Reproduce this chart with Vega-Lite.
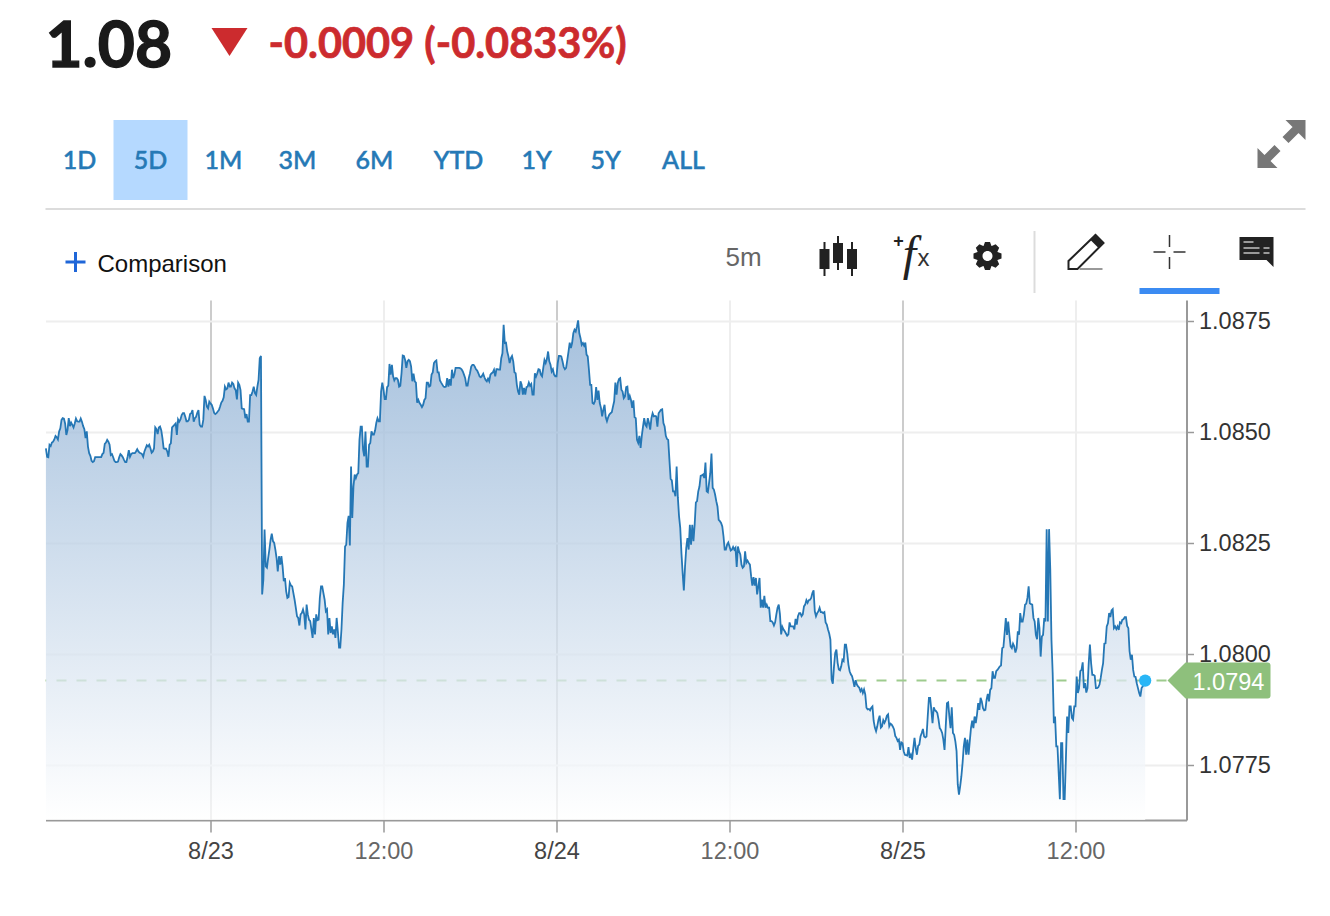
{"$schema":"https://vega.github.io/schema/vega-lite/v6.json","background":"white","padding":{"left":41.5,"top":0,"right":0,"bottom":0},"spacing":0,"bounds":"flush","config":{"view":{"stroke":null},"concat":{"spacing":0}},
"datasets":{"series":[
{"t":"2023-08-22T12:35Z","v":1.08463},{"t":"2023-08-22T12:40Z","v":1.08444},{"t":"2023-08-22T12:45Z","v":1.08443},{"t":"2023-08-22T12:50Z","v":1.08471},{"t":"2023-08-22T12:55Z","v":1.08468},{"t":"2023-08-22T13:00Z","v":1.08476},{"t":"2023-08-22T13:05Z","v":1.08478},{"t":"2023-08-22T13:10Z","v":1.08483},{"t":"2023-08-22T13:15Z","v":1.08491},{"t":"2023-08-22T13:20Z","v":1.08488},{"t":"2023-08-22T13:25Z","v":1.08483},{"t":"2023-08-22T13:30Z","v":1.08501},{"t":"2023-08-22T13:35Z","v":1.08508},{"t":"2023-08-22T13:40Z","v":1.08527},{"t":"2023-08-22T13:45Z","v":1.08531},{"t":"2023-08-22T13:50Z","v":1.0853},{"t":"2023-08-22T13:55Z","v":1.08519},{"t":"2023-08-22T14:00Z","v":1.08493},{"t":"2023-08-22T14:05Z","v":1.08504},{"t":"2023-08-22T14:10Z","v":1.08531},{"t":"2023-08-22T14:15Z","v":1.08513},{"t":"2023-08-22T14:20Z","v":1.08521},{"t":"2023-08-22T14:25Z","v":1.08516},{"t":"2023-08-22T14:30Z","v":1.0851},{"t":"2023-08-22T14:35Z","v":1.08519},{"t":"2023-08-22T14:40Z","v":1.0853},{"t":"2023-08-22T14:45Z","v":1.08524},{"t":"2023-08-22T14:50Z","v":1.08523},{"t":"2023-08-22T14:55Z","v":1.08523},{"t":"2023-08-22T15:00Z","v":1.0853},{"t":"2023-08-22T15:05Z","v":1.08523},{"t":"2023-08-22T15:10Z","v":1.08513},{"t":"2023-08-22T15:15Z","v":1.08506},{"t":"2023-08-22T15:20Z","v":1.08486},{"t":"2023-08-22T15:25Z","v":1.08501},{"t":"2023-08-22T15:30Z","v":1.08467},{"t":"2023-08-22T15:35Z","v":1.08452},{"t":"2023-08-22T15:40Z","v":1.08446},{"t":"2023-08-22T15:45Z","v":1.08435},{"t":"2023-08-22T15:50Z","v":1.08432},{"t":"2023-08-22T15:55Z","v":1.08434},{"t":"2023-08-22T16:00Z","v":1.08443},{"t":"2023-08-22T16:10Z","v":1.08443},{"t":"2023-08-22T16:20Z","v":1.08443},{"t":"2023-08-22T16:25Z","v":1.08443},{"t":"2023-08-22T16:30Z","v":1.0845},{"t":"2023-08-22T16:35Z","v":1.08453},{"t":"2023-08-22T16:40Z","v":1.08473},{"t":"2023-08-22T16:45Z","v":1.08476},{"t":"2023-08-22T16:50Z","v":1.08482},{"t":"2023-08-22T16:55Z","v":1.08478},{"t":"2023-08-22T17:00Z","v":1.08471},{"t":"2023-08-22T17:05Z","v":1.08448},{"t":"2023-08-22T17:10Z","v":1.0845},{"t":"2023-08-22T17:15Z","v":1.08443},{"t":"2023-08-22T17:20Z","v":1.08435},{"t":"2023-08-22T17:25Z","v":1.08432},{"t":"2023-08-22T17:30Z","v":1.08432},{"t":"2023-08-22T17:35Z","v":1.08433},{"t":"2023-08-22T17:40Z","v":1.08443},{"t":"2023-08-22T17:45Z","v":1.0845},{"t":"2023-08-22T17:50Z","v":1.08447},{"t":"2023-08-22T17:55Z","v":1.08443},{"t":"2023-08-22T18:00Z","v":1.08437},{"t":"2023-08-22T18:05Z","v":1.08432},{"t":"2023-08-22T18:10Z","v":1.08432},{"t":"2023-08-22T18:15Z","v":1.08444},{"t":"2023-08-22T18:20Z","v":1.08459},{"t":"2023-08-22T18:25Z","v":1.08444},{"t":"2023-08-22T18:30Z","v":1.0845},{"t":"2023-08-22T18:35Z","v":1.08452},{"t":"2023-08-22T18:45Z","v":1.08452},{"t":"2023-08-22T18:50Z","v":1.08456},{"t":"2023-08-22T18:55Z","v":1.08461},{"t":"2023-08-22T19:00Z","v":1.08456},{"t":"2023-08-22T19:05Z","v":1.08453},{"t":"2023-08-22T19:10Z","v":1.08452},{"t":"2023-08-22T19:15Z","v":1.0845},{"t":"2023-08-22T19:20Z","v":1.08444},{"t":"2023-08-22T19:25Z","v":1.08456},{"t":"2023-08-22T19:30Z","v":1.08463},{"t":"2023-08-22T19:35Z","v":1.0847},{"t":"2023-08-22T19:40Z","v":1.08467},{"t":"2023-08-22T19:45Z","v":1.08471},{"t":"2023-08-22T19:50Z","v":1.08463},{"t":"2023-08-22T19:55Z","v":1.08453},{"t":"2023-08-22T20:00Z","v":1.08456},{"t":"2023-08-22T20:05Z","v":1.08463},{"t":"2023-08-22T20:10Z","v":1.0851},{"t":"2023-08-22T20:15Z","v":1.08506},{"t":"2023-08-22T20:20Z","v":1.08495},{"t":"2023-08-22T20:25Z","v":1.0851},{"t":"2023-08-22T20:30Z","v":1.08512},{"t":"2023-08-22T20:35Z","v":1.08504},{"t":"2023-08-22T20:40Z","v":1.08486},{"t":"2023-08-22T20:45Z","v":1.08463},{"t":"2023-08-22T20:50Z","v":1.08462},{"t":"2023-08-22T20:55Z","v":1.08462},{"t":"2023-08-22T21:00Z","v":1.08456},{"t":"2023-08-22T21:05Z","v":1.08444},{"t":"2023-08-22T21:10Z","v":1.08471},{"t":"2023-08-22T21:15Z","v":1.08474},{"t":"2023-08-22T21:20Z","v":1.0851},{"t":"2023-08-22T21:25Z","v":1.08513},{"t":"2023-08-22T21:30Z","v":1.08516},{"t":"2023-08-22T21:35Z","v":1.08519},{"t":"2023-08-22T21:40Z","v":1.08493},{"t":"2023-08-22T21:45Z","v":1.08528},{"t":"2023-08-22T21:50Z","v":1.08523},{"t":"2023-08-22T21:55Z","v":1.08528},{"t":"2023-08-22T22:00Z","v":1.08538},{"t":"2023-08-22T22:05Z","v":1.08542},{"t":"2023-08-22T22:10Z","v":1.08542},{"t":"2023-08-22T22:15Z","v":1.08534},{"t":"2023-08-22T22:20Z","v":1.08524},{"t":"2023-08-22T22:25Z","v":1.08524},{"t":"2023-08-22T22:30Z","v":1.08527},{"t":"2023-08-22T22:35Z","v":1.0854},{"t":"2023-08-22T22:40Z","v":1.08542},{"t":"2023-08-22T22:45Z","v":1.08549},{"t":"2023-08-22T22:50Z","v":1.08523},{"t":"2023-08-22T22:55Z","v":1.08531},{"t":"2023-08-22T23:00Z","v":1.08534},{"t":"2023-08-22T23:05Z","v":1.08543},{"t":"2023-08-22T23:10Z","v":1.08549},{"t":"2023-08-22T23:15Z","v":1.08516},{"t":"2023-08-22T23:20Z","v":1.08512},{"t":"2023-08-22T23:25Z","v":1.08512},{"t":"2023-08-22T23:30Z","v":1.08527},{"t":"2023-08-22T23:35Z","v":1.08581},{"t":"2023-08-22T23:40Z","v":1.08572},{"t":"2023-08-22T23:45Z","v":1.08557},{"t":"2023-08-22T23:50Z","v":1.08553},{"t":"2023-08-22T23:55Z","v":1.08568},
{"t":"2023-08-23T00:00Z","v":1.08564},{"t":"2023-08-23T00:05Z","v":1.08561},{"t":"2023-08-23T00:10Z","v":1.08553},{"t":"2023-08-23T00:15Z","v":1.08543},{"t":"2023-08-23T00:20Z","v":1.0854},{"t":"2023-08-23T00:25Z","v":1.08542},{"t":"2023-08-23T00:30Z","v":1.08546},{"t":"2023-08-23T00:35Z","v":1.08549},{"t":"2023-08-23T00:40Z","v":1.08557},{"t":"2023-08-23T00:45Z","v":1.08566},{"t":"2023-08-23T00:50Z","v":1.0857},{"t":"2023-08-23T00:55Z","v":1.08578},{"t":"2023-08-23T01:00Z","v":1.08602},{"t":"2023-08-23T01:05Z","v":1.08596},{"t":"2023-08-23T01:10Z","v":1.08598},{"t":"2023-08-23T01:15Z","v":1.08611},{"t":"2023-08-23T01:20Z","v":1.08602},{"t":"2023-08-23T01:25Z","v":1.08602},{"t":"2023-08-23T01:30Z","v":1.08611},{"t":"2023-08-23T01:35Z","v":1.08608},{"t":"2023-08-23T01:40Z","v":1.08598},{"t":"2023-08-23T01:45Z","v":1.08594},{"t":"2023-08-23T01:50Z","v":1.08573},{"t":"2023-08-23T01:55Z","v":1.08611},{"t":"2023-08-23T02:00Z","v":1.08606},{"t":"2023-08-23T02:05Z","v":1.08594},{"t":"2023-08-23T02:10Z","v":1.08553},{"t":"2023-08-23T02:15Z","v":1.08552},{"t":"2023-08-23T02:20Z","v":1.08551},{"t":"2023-08-23T02:25Z","v":1.08531},{"t":"2023-08-23T02:30Z","v":1.0854},{"t":"2023-08-23T02:35Z","v":1.08523},{"t":"2023-08-23T02:40Z","v":1.08523},{"t":"2023-08-23T02:45Z","v":1.08583},{"t":"2023-08-23T02:50Z","v":1.08583},{"t":"2023-08-23T02:55Z","v":1.08591},{"t":"2023-08-23T03:00Z","v":1.08602},{"t":"2023-08-23T03:05Z","v":1.08587},{"t":"2023-08-23T03:10Z","v":1.08583},{"t":"2023-08-23T03:15Z","v":1.08602},{"t":"2023-08-23T03:20Z","v":1.08617},{"t":"2023-08-23T03:25Z","v":1.08666},{"t":"2023-08-23T03:30Z","v":1.08671},{"t":"2023-08-23T03:35Z","v":1.08134},{"t":"2023-08-23T03:40Z","v":1.08167},{"t":"2023-08-23T03:45Z","v":1.0828},{"t":"2023-08-23T03:50Z","v":1.08197},{"t":"2023-08-23T03:55Z","v":1.08194},{"t":"2023-08-23T04:00Z","v":1.08216},{"t":"2023-08-23T04:05Z","v":1.08235},{"t":"2023-08-23T04:10Z","v":1.08257},{"t":"2023-08-23T04:15Z","v":1.08271},{"t":"2023-08-23T04:20Z","v":1.08254},{"t":"2023-08-23T04:25Z","v":1.0825},{"t":"2023-08-23T04:30Z","v":1.08235},{"t":"2023-08-23T04:35Z","v":1.08216},{"t":"2023-08-23T04:40Z","v":1.08186},{"t":"2023-08-23T04:45Z","v":1.0822},{"t":"2023-08-23T04:50Z","v":1.08201},{"t":"2023-08-23T04:55Z","v":1.0822},{"t":"2023-08-23T05:00Z","v":1.08197},{"t":"2023-08-23T05:05Z","v":1.08164},{"t":"2023-08-23T05:10Z","v":1.08171},{"t":"2023-08-23T05:15Z","v":1.08141},{"t":"2023-08-23T05:20Z","v":1.08126},{"t":"2023-08-23T05:25Z","v":1.08128},{"t":"2023-08-23T05:30Z","v":1.0816},{"t":"2023-08-23T05:35Z","v":1.08154},{"t":"2023-08-23T05:40Z","v":1.08152},{"t":"2023-08-23T05:45Z","v":1.08137},{"t":"2023-08-23T05:50Z","v":1.08122},{"t":"2023-08-23T05:55Z","v":1.08104},{"t":"2023-08-23T06:00Z","v":1.08085},{"t":"2023-08-23T06:05Z","v":1.08081},{"t":"2023-08-23T06:10Z","v":1.08064},{"t":"2023-08-23T06:15Z","v":1.08089},{"t":"2023-08-23T06:20Z","v":1.08092},{"t":"2023-08-23T06:25Z","v":1.081},{"t":"2023-08-23T06:30Z","v":1.08089},{"t":"2023-08-23T06:35Z","v":1.08055},{"t":"2023-08-23T06:40Z","v":1.08111},{"t":"2023-08-23T06:45Z","v":1.08089},{"t":"2023-08-23T06:50Z","v":1.08077},{"t":"2023-08-23T06:55Z","v":1.08074},{"t":"2023-08-23T07:00Z","v":1.08055},{"t":"2023-08-23T07:05Z","v":1.08036},{"t":"2023-08-23T07:10Z","v":1.08081},{"t":"2023-08-23T07:15Z","v":1.08044},{"t":"2023-08-23T07:20Z","v":1.08089},{"t":"2023-08-23T07:25Z","v":1.08076},{"t":"2023-08-23T07:30Z","v":1.08077},{"t":"2023-08-23T07:35Z","v":1.08126},{"t":"2023-08-23T07:40Z","v":1.08152},{"t":"2023-08-23T07:45Z","v":1.08152},{"t":"2023-08-23T07:50Z","v":1.08137},{"t":"2023-08-23T07:55Z","v":1.08122},{"t":"2023-08-23T08:00Z","v":1.08096},{"t":"2023-08-23T08:05Z","v":1.081},{"t":"2023-08-23T08:10Z","v":1.08044},{"t":"2023-08-23T08:15Z","v":1.08081},{"t":"2023-08-23T08:20Z","v":1.08047},{"t":"2023-08-23T08:25Z","v":1.08062},{"t":"2023-08-23T08:30Z","v":1.08044},{"t":"2023-08-23T08:35Z","v":1.08055},{"t":"2023-08-23T08:40Z","v":1.08036},{"t":"2023-08-23T08:45Z","v":1.08081},{"t":"2023-08-23T08:50Z","v":1.08051},{"t":"2023-08-23T08:55Z","v":1.08014},{"t":"2023-08-23T09:00Z","v":1.08014},{"t":"2023-08-23T09:05Z","v":1.08055},{"t":"2023-08-23T09:10Z","v":1.08115},{"t":"2023-08-23T09:15Z","v":1.08156},{"t":"2023-08-23T09:20Z","v":1.08242},{"t":"2023-08-23T09:25Z","v":1.08246},{"t":"2023-08-23T09:30Z","v":1.08295},{"t":"2023-08-23T09:35Z","v":1.08311},{"t":"2023-08-23T09:40Z","v":1.08244},{"t":"2023-08-23T09:45Z","v":1.08422},{"t":"2023-08-23T09:50Z","v":1.08306},{"t":"2023-08-23T09:55Z","v":1.08377},{"t":"2023-08-23T10:00Z","v":1.08404},{"t":"2023-08-23T10:05Z","v":1.08396},{"t":"2023-08-23T10:10Z","v":1.08404},{"t":"2023-08-23T10:15Z","v":1.08407},{"t":"2023-08-23T10:20Z","v":1.08482},{"t":"2023-08-23T10:25Z","v":1.08512},{"t":"2023-08-23T10:30Z","v":1.08512},{"t":"2023-08-23T10:35Z","v":1.0846},{"t":"2023-08-23T10:40Z","v":1.08445},{"t":"2023-08-23T10:45Z","v":1.08501},{"t":"2023-08-23T10:50Z","v":1.08422},{"t":"2023-08-23T10:55Z","v":1.08422},{"t":"2023-08-23T11:00Z","v":1.08471},{"t":"2023-08-23T11:05Z","v":1.08475},{"t":"2023-08-23T11:10Z","v":1.08501},{"t":"2023-08-23T11:15Z","v":1.08494},{"t":"2023-08-23T11:20Z","v":1.08494},{"t":"2023-08-23T11:25Z","v":1.08503},{"t":"2023-08-23T11:30Z","v":1.0852},{"t":"2023-08-23T11:35Z","v":1.08531},{"t":"2023-08-23T11:40Z","v":1.08524},{"t":"2023-08-23T11:45Z","v":1.08524},{"t":"2023-08-23T11:50Z","v":1.08591},{"t":"2023-08-23T11:55Z","v":1.08611},{"t":"2023-08-23T12:00Z","v":1.08595},{"t":"2023-08-23T12:05Z","v":1.08574},{"t":"2023-08-23T12:10Z","v":1.08574},{"t":"2023-08-23T12:15Z","v":1.08601},{"t":"2023-08-23T12:20Z","v":1.08604},{"t":"2023-08-23T12:25Z","v":1.08653},{"t":"2023-08-23T12:30Z","v":1.08629},{"t":"2023-08-23T12:35Z","v":1.08651},{"t":"2023-08-23T12:40Z","v":1.08625},{"t":"2023-08-23T12:45Z","v":1.08616},{"t":"2023-08-23T12:50Z","v":1.08621},{"t":"2023-08-23T12:55Z","v":1.08621},{"t":"2023-08-23T13:00Z","v":1.08617},{"t":"2023-08-23T13:05Z","v":1.08602},{"t":"2023-08-23T13:10Z","v":1.08604},{"t":"2023-08-23T13:15Z","v":1.08632},{"t":"2023-08-23T13:20Z","v":1.08672},{"t":"2023-08-23T13:25Z","v":1.08671},{"t":"2023-08-23T13:30Z","v":1.08662},{"t":"2023-08-23T13:35Z","v":1.08644},{"t":"2023-08-23T13:40Z","v":1.08659},{"t":"2023-08-23T13:45Z","v":1.08662},{"t":"2023-08-23T13:50Z","v":1.08659},{"t":"2023-08-23T13:55Z","v":1.08647},{"t":"2023-08-23T14:00Z","v":1.08614},{"t":"2023-08-23T14:05Z","v":1.08631},{"t":"2023-08-23T14:10Z","v":1.08614},{"t":"2023-08-23T14:15Z","v":1.08611},{"t":"2023-08-23T14:20Z","v":1.08566},{"t":"2023-08-23T14:25Z","v":1.08572},{"t":"2023-08-23T14:30Z","v":1.08565},{"t":"2023-08-23T14:35Z","v":1.08561},{"t":"2023-08-23T14:40Z","v":1.08556},{"t":"2023-08-23T14:45Z","v":1.08561},{"t":"2023-08-23T14:50Z","v":1.08572},{"t":"2023-08-23T14:55Z","v":1.08576},{"t":"2023-08-23T15:00Z","v":1.08611},{"t":"2023-08-23T15:05Z","v":1.08611},{"t":"2023-08-23T15:10Z","v":1.08602},{"t":"2023-08-23T15:15Z","v":1.08604},{"t":"2023-08-23T15:20Z","v":1.08629},{"t":"2023-08-23T15:25Z","v":1.08634},{"t":"2023-08-23T15:30Z","v":1.08655},{"t":"2023-08-23T15:35Z","v":1.08659},{"t":"2023-08-23T15:40Z","v":1.08661},{"t":"2023-08-23T15:45Z","v":1.08634},{"t":"2023-08-23T15:50Z","v":1.08634},{"t":"2023-08-23T15:55Z","v":1.08616},{"t":"2023-08-23T16:00Z","v":1.08611},{"t":"2023-08-23T16:10Z","v":1.08602},{"t":"2023-08-23T16:15Z","v":1.08601},{"t":"2023-08-23T16:20Z","v":1.08602},{"t":"2023-08-23T16:25Z","v":1.08621},{"t":"2023-08-23T16:30Z","v":1.08602},{"t":"2023-08-23T16:35Z","v":1.08619},{"t":"2023-08-23T16:40Z","v":1.08604},{"t":"2023-08-23T16:45Z","v":1.0864},{"t":"2023-08-23T16:50Z","v":1.08621},{"t":"2023-08-23T16:55Z","v":1.08629},{"t":"2023-08-23T17:00Z","v":1.08644},{"t":"2023-08-23T17:05Z","v":1.08644},{"t":"2023-08-23T17:15Z","v":1.08644},{"t":"2023-08-23T17:20Z","v":1.08643},{"t":"2023-08-23T17:25Z","v":1.08641},{"t":"2023-08-23T17:30Z","v":1.08636},{"t":"2023-08-23T17:35Z","v":1.08629},{"t":"2023-08-23T17:40Z","v":1.08621},{"t":"2023-08-23T17:45Z","v":1.08604},{"t":"2023-08-23T17:50Z","v":1.08604},{"t":"2023-08-23T17:55Z","v":1.08621},{"t":"2023-08-23T18:00Z","v":1.08632},{"t":"2023-08-23T18:05Z","v":1.08647},{"t":"2023-08-23T18:10Z","v":1.08651},{"t":"2023-08-23T18:15Z","v":1.08651},{"t":"2023-08-23T18:20Z","v":1.08647},{"t":"2023-08-23T18:25Z","v":1.08641},{"t":"2023-08-23T18:30Z","v":1.08638},{"t":"2023-08-23T18:35Z","v":1.08632},{"t":"2023-08-23T18:40Z","v":1.08625},{"t":"2023-08-23T18:45Z","v":1.08623},{"t":"2023-08-23T18:50Z","v":1.08626},{"t":"2023-08-23T18:55Z","v":1.08631},{"t":"2023-08-23T19:00Z","v":1.08623},{"t":"2023-08-23T19:05Z","v":1.08617},{"t":"2023-08-23T19:10Z","v":1.08614},{"t":"2023-08-23T19:15Z","v":1.0862},{"t":"2023-08-23T19:20Z","v":1.08614},{"t":"2023-08-23T19:25Z","v":1.08629},{"t":"2023-08-23T19:30Z","v":1.08632},{"t":"2023-08-23T19:35Z","v":1.08634},{"t":"2023-08-23T19:40Z","v":1.0864},{"t":"2023-08-23T19:45Z","v":1.08625},{"t":"2023-08-23T19:50Z","v":1.08641},{"t":"2023-08-23T19:55Z","v":1.08641},{"t":"2023-08-23T20:00Z","v":1.0864},{"t":"2023-08-23T20:05Z","v":1.0864},{"t":"2023-08-23T20:10Z","v":1.08666},{"t":"2023-08-23T20:15Z","v":1.08677},{"t":"2023-08-23T20:20Z","v":1.08741},{"t":"2023-08-23T20:25Z","v":1.087},{"t":"2023-08-23T20:30Z","v":1.08701},{"t":"2023-08-23T20:35Z","v":1.08681},{"t":"2023-08-23T20:40Z","v":1.0867},{"t":"2023-08-23T20:45Z","v":1.08655},{"t":"2023-08-23T20:50Z","v":1.08666},{"t":"2023-08-23T20:55Z","v":1.08671},{"t":"2023-08-23T21:00Z","v":1.08659},{"t":"2023-08-23T21:05Z","v":1.08634},{"t":"2023-08-23T21:10Z","v":1.08632},{"t":"2023-08-23T21:15Z","v":1.08606},{"t":"2023-08-23T21:20Z","v":1.08591},{"t":"2023-08-23T21:25Z","v":1.08584},{"t":"2023-08-23T21:30Z","v":1.08614},{"t":"2023-08-23T21:35Z","v":1.08606},{"t":"2023-08-23T21:40Z","v":1.08584},{"t":"2023-08-23T21:45Z","v":1.08599},{"t":"2023-08-23T21:50Z","v":1.08584},{"t":"2023-08-23T21:55Z","v":1.08601},{"t":"2023-08-23T22:00Z","v":1.08602},{"t":"2023-08-23T22:05Z","v":1.08611},{"t":"2023-08-23T22:10Z","v":1.08604},{"t":"2023-08-23T22:15Z","v":1.08608},{"t":"2023-08-23T22:20Z","v":1.08584},{"t":"2023-08-23T22:25Z","v":1.08584},{"t":"2023-08-23T22:30Z","v":1.08632},{"t":"2023-08-23T22:35Z","v":1.08625},{"t":"2023-08-23T22:40Z","v":1.08632},{"t":"2023-08-23T22:45Z","v":1.08641},{"t":"2023-08-23T22:50Z","v":1.0864},{"t":"2023-08-23T22:55Z","v":1.08629},{"t":"2023-08-23T23:00Z","v":1.08625},{"t":"2023-08-23T23:05Z","v":1.08644},{"t":"2023-08-23T23:10Z","v":1.08662},{"t":"2023-08-23T23:15Z","v":1.08655},{"t":"2023-08-23T23:20Z","v":1.08664},{"t":"2023-08-23T23:25Z","v":1.08681},{"t":"2023-08-23T23:30Z","v":1.08659},{"t":"2023-08-23T23:35Z","v":1.08651},{"t":"2023-08-23T23:40Z","v":1.08636},{"t":"2023-08-23T23:45Z","v":1.08641},{"t":"2023-08-23T23:50Z","v":1.08629},{"t":"2023-08-23T23:55Z","v":1.08625},
{"t":"2023-08-24T00:00Z","v":1.08625},{"t":"2023-08-24T00:05Z","v":1.08655},{"t":"2023-08-24T00:10Z","v":1.08671},{"t":"2023-08-24T00:15Z","v":1.08671},{"t":"2023-08-24T00:20Z","v":1.0867},{"t":"2023-08-24T00:25Z","v":1.08659},{"t":"2023-08-24T00:30Z","v":1.08646},{"t":"2023-08-24T00:35Z","v":1.08641},{"t":"2023-08-24T00:40Z","v":1.08644},{"t":"2023-08-24T00:45Z","v":1.08662},{"t":"2023-08-24T00:50Z","v":1.08681},{"t":"2023-08-24T00:55Z","v":1.08701},{"t":"2023-08-24T01:00Z","v":1.08689},{"t":"2023-08-24T01:05Z","v":1.087},{"t":"2023-08-24T01:10Z","v":1.08722},{"t":"2023-08-24T01:15Z","v":1.0873},{"t":"2023-08-24T01:20Z","v":1.08726},{"t":"2023-08-24T01:25Z","v":1.08737},{"t":"2023-08-24T01:30Z","v":1.08751},{"t":"2023-08-24T01:35Z","v":1.08722},{"t":"2023-08-24T01:40Z","v":1.08711},{"t":"2023-08-24T01:45Z","v":1.08696},{"t":"2023-08-24T01:50Z","v":1.087},{"t":"2023-08-24T01:55Z","v":1.08694},{"t":"2023-08-24T02:00Z","v":1.08701},{"t":"2023-08-24T02:05Z","v":1.08674},{"t":"2023-08-24T02:10Z","v":1.0867},{"t":"2023-08-24T02:15Z","v":1.0864},{"t":"2023-08-24T02:20Z","v":1.08606},{"t":"2023-08-24T02:25Z","v":1.08606},{"t":"2023-08-24T02:30Z","v":1.08565},{"t":"2023-08-24T02:35Z","v":1.08563},{"t":"2023-08-24T02:40Z","v":1.08569},{"t":"2023-08-24T02:45Z","v":1.08601},{"t":"2023-08-24T02:50Z","v":1.08572},{"t":"2023-08-24T02:55Z","v":1.08593},{"t":"2023-08-24T03:00Z","v":1.08565},{"t":"2023-08-24T03:05Z","v":1.08554},{"t":"2023-08-24T03:10Z","v":1.08535},{"t":"2023-08-24T03:15Z","v":1.0855},{"t":"2023-08-24T03:20Z","v":1.08561},{"t":"2023-08-24T03:25Z","v":1.08533},{"t":"2023-08-24T03:30Z","v":1.08524},{"t":"2023-08-24T03:35Z","v":1.08533},{"t":"2023-08-24T03:40Z","v":1.08539},{"t":"2023-08-24T03:45Z","v":1.08542},{"t":"2023-08-24T03:50Z","v":1.08544},{"t":"2023-08-24T03:55Z","v":1.08557},{"t":"2023-08-24T04:00Z","v":1.08569},{"t":"2023-08-24T04:05Z","v":1.08611},{"t":"2023-08-24T04:10Z","v":1.08584},{"t":"2023-08-24T04:15Z","v":1.0861},{"t":"2023-08-24T04:20Z","v":1.08619},{"t":"2023-08-24T04:25Z","v":1.08621},{"t":"2023-08-24T04:30Z","v":1.08595},{"t":"2023-08-24T04:35Z","v":1.08591},{"t":"2023-08-24T04:40Z","v":1.08576},{"t":"2023-08-24T04:45Z","v":1.0858},{"t":"2023-08-24T04:50Z","v":1.08601},{"t":"2023-08-24T04:55Z","v":1.08602},{"t":"2023-08-24T05:00Z","v":1.08572},{"t":"2023-08-24T05:05Z","v":1.08581},{"t":"2023-08-24T05:10Z","v":1.08572},{"t":"2023-08-24T05:15Z","v":1.08554},{"t":"2023-08-24T05:20Z","v":1.08571},{"t":"2023-08-24T05:25Z","v":1.08533},{"t":"2023-08-24T05:30Z","v":1.08531},{"t":"2023-08-24T05:35Z","v":1.08482},{"t":"2023-08-24T05:40Z","v":1.08475},{"t":"2023-08-24T05:45Z","v":1.08491},{"t":"2023-08-24T05:50Z","v":1.08464},{"t":"2023-08-24T05:55Z","v":1.08491},{"t":"2023-08-24T06:00Z","v":1.08512},{"t":"2023-08-24T06:05Z","v":1.08531},{"t":"2023-08-24T06:10Z","v":1.08516},{"t":"2023-08-24T06:15Z","v":1.08512},{"t":"2023-08-24T06:20Z","v":1.08531},{"t":"2023-08-24T06:25Z","v":1.0852},{"t":"2023-08-24T06:30Z","v":1.08505},{"t":"2023-08-24T06:35Z","v":1.08531},{"t":"2023-08-24T06:40Z","v":1.08542},{"t":"2023-08-24T06:45Z","v":1.08535},{"t":"2023-08-24T06:50Z","v":1.08536},{"t":"2023-08-24T06:55Z","v":1.08535},{"t":"2023-08-24T07:00Z","v":1.08512},{"t":"2023-08-24T07:05Z","v":1.08542},{"t":"2023-08-24T07:10Z","v":1.08546},{"t":"2023-08-24T07:15Z","v":1.0855},{"t":"2023-08-24T07:20Z","v":1.08551},{"t":"2023-08-24T07:25Z","v":1.0852},{"t":"2023-08-24T07:30Z","v":1.08512},{"t":"2023-08-24T07:35Z","v":1.08491},{"t":"2023-08-24T07:40Z","v":1.08484},{"t":"2023-08-24T07:45Z","v":1.08482},{"t":"2023-08-24T07:50Z","v":1.08437},{"t":"2023-08-24T07:55Z","v":1.08394},{"t":"2023-08-24T08:00Z","v":1.08391},{"t":"2023-08-24T08:05Z","v":1.08366},{"t":"2023-08-24T08:10Z","v":1.08366},{"t":"2023-08-24T08:15Z","v":1.08355},{"t":"2023-08-24T08:20Z","v":1.08422},{"t":"2023-08-24T08:25Z","v":1.08353},{"t":"2023-08-24T08:30Z","v":1.0831},{"t":"2023-08-24T08:35Z","v":1.08284},{"t":"2023-08-24T08:40Z","v":1.08227},{"t":"2023-08-24T08:45Z","v":1.08182},{"t":"2023-08-24T08:50Z","v":1.08143},{"t":"2023-08-24T08:55Z","v":1.08197},{"t":"2023-08-24T09:00Z","v":1.08239},{"t":"2023-08-24T09:05Z","v":1.08261},{"t":"2023-08-24T09:10Z","v":1.08235},{"t":"2023-08-24T09:15Z","v":1.08291},{"t":"2023-08-24T09:20Z","v":1.08246},{"t":"2023-08-24T09:25Z","v":1.08291},{"t":"2023-08-24T09:30Z","v":1.08254},{"t":"2023-08-24T09:35Z","v":1.08291},{"t":"2023-08-24T09:40Z","v":1.08341},{"t":"2023-08-24T09:45Z","v":1.08344},{"t":"2023-08-24T09:50Z","v":1.08366},{"t":"2023-08-24T09:55Z","v":1.08377},{"t":"2023-08-24T10:00Z","v":1.08401},{"t":"2023-08-24T10:05Z","v":1.08402},{"t":"2023-08-24T10:10Z","v":1.08404},{"t":"2023-08-24T10:15Z","v":1.08396},{"t":"2023-08-24T10:20Z","v":1.08431},{"t":"2023-08-24T10:25Z","v":1.08366},{"t":"2023-08-24T10:30Z","v":1.08364},{"t":"2023-08-24T10:35Z","v":1.08385},{"t":"2023-08-24T10:40Z","v":1.08407},{"t":"2023-08-24T10:45Z","v":1.08451},{"t":"2023-08-24T10:50Z","v":1.08374},{"t":"2023-08-24T10:55Z","v":1.0837},{"t":"2023-08-24T11:00Z","v":1.08359},{"t":"2023-08-24T11:05Z","v":1.08344},{"t":"2023-08-24T11:10Z","v":1.08332},{"t":"2023-08-24T11:15Z","v":1.08302},{"t":"2023-08-24T11:20Z","v":1.08299},{"t":"2023-08-24T11:25Z","v":1.08295},{"t":"2023-08-24T11:30Z","v":1.08287},{"t":"2023-08-24T11:35Z","v":1.08265},{"t":"2023-08-24T11:40Z","v":1.08235},{"t":"2023-08-24T11:45Z","v":1.08235},{"t":"2023-08-24T11:50Z","v":1.08246},{"t":"2023-08-24T11:55Z","v":1.08251},{"t":"2023-08-24T12:00Z","v":1.08242},{"t":"2023-08-24T12:05Z","v":1.08233},{"t":"2023-08-24T12:10Z","v":1.08235},{"t":"2023-08-24T12:15Z","v":1.08241},{"t":"2023-08-24T12:20Z","v":1.08235},{"t":"2023-08-24T12:25Z","v":1.08239},{"t":"2023-08-24T12:30Z","v":1.08196},{"t":"2023-08-24T12:35Z","v":1.08242},{"t":"2023-08-24T12:40Z","v":1.08231},{"t":"2023-08-24T12:45Z","v":1.08224},{"t":"2023-08-24T12:50Z","v":1.08201},{"t":"2023-08-24T12:55Z","v":1.08194},{"t":"2023-08-24T13:00Z","v":1.08197},{"t":"2023-08-24T13:05Z","v":1.08231},{"t":"2023-08-24T13:10Z","v":1.08205},{"t":"2023-08-24T13:15Z","v":1.0821},{"t":"2023-08-24T13:20Z","v":1.08205},{"t":"2023-08-24T13:25Z","v":1.08201},{"t":"2023-08-24T13:30Z","v":1.08175},{"t":"2023-08-24T13:35Z","v":1.08154},{"t":"2023-08-24T13:40Z","v":1.08173},{"t":"2023-08-24T13:45Z","v":1.08154},{"t":"2023-08-24T13:50Z","v":1.08171},{"t":"2023-08-24T13:55Z","v":1.08134},{"t":"2023-08-24T14:00Z","v":1.08152},{"t":"2023-08-24T14:05Z","v":1.08171},{"t":"2023-08-24T14:10Z","v":1.08104},{"t":"2023-08-24T14:15Z","v":1.08122},{"t":"2023-08-24T14:20Z","v":1.08104},{"t":"2023-08-24T14:25Z","v":1.08131},{"t":"2023-08-24T14:30Z","v":1.08104},{"t":"2023-08-24T14:35Z","v":1.08111},{"t":"2023-08-24T14:40Z","v":1.08104},{"t":"2023-08-24T14:45Z","v":1.08104},{"t":"2023-08-24T14:50Z","v":1.08074},{"t":"2023-08-24T14:55Z","v":1.08074},{"t":"2023-08-24T15:00Z","v":1.08071},{"t":"2023-08-24T15:05Z","v":1.08064},{"t":"2023-08-24T15:10Z","v":1.08071},{"t":"2023-08-24T15:15Z","v":1.08089},{"t":"2023-08-24T15:20Z","v":1.08104},{"t":"2023-08-24T15:25Z","v":1.08111},{"t":"2023-08-24T15:30Z","v":1.08089},{"t":"2023-08-24T15:35Z","v":1.08044},{"t":"2023-08-24T15:40Z","v":1.08061},{"t":"2023-08-24T15:45Z","v":1.08055},{"t":"2023-08-24T15:50Z","v":1.08051},{"t":"2023-08-24T15:55Z","v":1.08046},{"t":"2023-08-24T16:00Z","v":1.08041},{"t":"2023-08-24T16:05Z","v":1.08044},{"t":"2023-08-24T16:10Z","v":1.08071},{"t":"2023-08-24T16:15Z","v":1.08062},{"t":"2023-08-24T16:20Z","v":1.08062},{"t":"2023-08-24T16:25Z","v":1.08062},{"t":"2023-08-24T16:30Z","v":1.08055},{"t":"2023-08-24T16:35Z","v":1.08079},{"t":"2023-08-24T16:40Z","v":1.08066},{"t":"2023-08-24T16:45Z","v":1.08085},{"t":"2023-08-24T16:50Z","v":1.08092},{"t":"2023-08-24T16:55Z","v":1.08092},{"t":"2023-08-24T17:00Z","v":1.08085},{"t":"2023-08-24T17:05Z","v":1.08089},{"t":"2023-08-24T17:10Z","v":1.08107},{"t":"2023-08-24T17:15Z","v":1.08111},{"t":"2023-08-24T17:20Z","v":1.08121},{"t":"2023-08-24T17:25Z","v":1.08115},{"t":"2023-08-24T17:30Z","v":1.08121},{"t":"2023-08-24T17:35Z","v":1.08122},{"t":"2023-08-24T17:40Z","v":1.08126},{"t":"2023-08-24T17:45Z","v":1.08137},{"t":"2023-08-24T17:50Z","v":1.08143},{"t":"2023-08-24T17:55Z","v":1.08096},{"t":"2023-08-24T18:00Z","v":1.08085},{"t":"2023-08-24T18:05Z","v":1.08092},{"t":"2023-08-24T18:10Z","v":1.08096},{"t":"2023-08-24T18:15Z","v":1.08104},{"t":"2023-08-24T18:20Z","v":1.08094},{"t":"2023-08-24T18:25Z","v":1.08094},{"t":"2023-08-24T18:30Z","v":1.08092},{"t":"2023-08-24T18:35Z","v":1.08094},{"t":"2023-08-24T18:40Z","v":1.08071},{"t":"2023-08-24T18:45Z","v":1.08066},{"t":"2023-08-24T18:50Z","v":1.08055},{"t":"2023-08-24T18:55Z","v":1.08046},{"t":"2023-08-24T19:00Z","v":1.08032},{"t":"2023-08-24T19:05Z","v":1.07942},{"t":"2023-08-24T19:10Z","v":1.07933},{"t":"2023-08-24T19:15Z","v":1.07972},{"t":"2023-08-24T19:20Z","v":1.08002},{"t":"2023-08-24T19:25Z","v":1.0801},{"t":"2023-08-24T19:30Z","v":1.0798},{"t":"2023-08-24T19:35Z","v":1.07965},{"t":"2023-08-24T19:40Z","v":1.07963},{"t":"2023-08-24T19:45Z","v":1.07972},{"t":"2023-08-24T19:50Z","v":1.07987},{"t":"2023-08-24T19:55Z","v":1.07984},{"t":"2023-08-24T20:00Z","v":1.08021},{"t":"2023-08-24T20:05Z","v":1.08021},{"t":"2023-08-24T20:10Z","v":1.08002},{"t":"2023-08-24T20:15Z","v":1.07976},{"t":"2023-08-24T20:20Z","v":1.07961},{"t":"2023-08-24T20:25Z","v":1.07954},{"t":"2023-08-24T20:30Z","v":1.0795},{"t":"2023-08-24T20:35Z","v":1.07939},{"t":"2023-08-24T20:40Z","v":1.07926},{"t":"2023-08-24T20:45Z","v":1.07941},{"t":"2023-08-24T20:50Z","v":1.07931},{"t":"2023-08-24T20:55Z","v":1.07927},{"t":"2023-08-24T21:00Z","v":1.07924},{"t":"2023-08-24T21:05Z","v":1.07916},{"t":"2023-08-24T21:10Z","v":1.07921},{"t":"2023-08-24T21:15Z","v":1.07912},{"t":"2023-08-24T21:20Z","v":1.0792},{"t":"2023-08-24T21:25Z","v":1.07909},{"t":"2023-08-24T21:30Z","v":1.07879},{"t":"2023-08-24T21:35Z","v":1.07875},{"t":"2023-08-24T21:40Z","v":1.07876},{"t":"2023-08-24T21:45Z","v":1.07873},{"t":"2023-08-24T21:50Z","v":1.07879},{"t":"2023-08-24T21:55Z","v":1.07882},{"t":"2023-08-24T22:00Z","v":1.07849},{"t":"2023-08-24T22:05Z","v":1.07834},{"t":"2023-08-24T22:10Z","v":1.07826},{"t":"2023-08-24T22:15Z","v":1.07837},{"t":"2023-08-24T22:20Z","v":1.07852},{"t":"2023-08-24T22:25Z","v":1.07861},{"t":"2023-08-24T22:30Z","v":1.07834},{"t":"2023-08-24T22:35Z","v":1.07837},{"t":"2023-08-24T22:40Z","v":1.07851},{"t":"2023-08-24T22:45Z","v":1.07845},{"t":"2023-08-24T22:50Z","v":1.07851},{"t":"2023-08-24T22:55Z","v":1.07861},{"t":"2023-08-24T23:00Z","v":1.07864},{"t":"2023-08-24T23:05Z","v":1.07837},{"t":"2023-08-24T23:10Z","v":1.07843},{"t":"2023-08-24T23:15Z","v":1.07841},{"t":"2023-08-24T23:20Z","v":1.07836},{"t":"2023-08-24T23:25Z","v":1.0783},{"t":"2023-08-24T23:30Z","v":1.07815},{"t":"2023-08-24T23:35Z","v":1.07811},{"t":"2023-08-24T23:40Z","v":1.07804},{"t":"2023-08-24T23:45Z","v":1.07807},{"t":"2023-08-24T23:50Z","v":1.07784},{"t":"2023-08-24T23:55Z","v":1.07801},
{"t":"2023-08-25T00:00Z","v":1.07799},{"t":"2023-08-25T00:05Z","v":1.07781},{"t":"2023-08-25T00:10Z","v":1.07773},{"t":"2023-08-25T00:15Z","v":1.07772},{"t":"2023-08-25T00:20Z","v":1.07771},{"t":"2023-08-25T00:25Z","v":1.0779},{"t":"2023-08-25T00:30Z","v":1.07766},{"t":"2023-08-25T00:35Z","v":1.07773},{"t":"2023-08-25T00:40Z","v":1.07762},{"t":"2023-08-25T00:45Z","v":1.07788},{"t":"2023-08-25T00:50Z","v":1.07811},{"t":"2023-08-25T00:55Z","v":1.07788},{"t":"2023-08-25T01:00Z","v":1.07773},{"t":"2023-08-25T01:05Z","v":1.07793},{"t":"2023-08-25T01:10Z","v":1.07796},{"t":"2023-08-25T01:15Z","v":1.07814},{"t":"2023-08-25T01:20Z","v":1.07822},{"t":"2023-08-25T01:25Z","v":1.07831},{"t":"2023-08-25T01:30Z","v":1.07814},{"t":"2023-08-25T01:35Z","v":1.07812},{"t":"2023-08-25T01:40Z","v":1.07814},{"t":"2023-08-25T01:45Z","v":1.07859},{"t":"2023-08-25T01:50Z","v":1.07901},{"t":"2023-08-25T01:55Z","v":1.07901},{"t":"2023-08-25T02:00Z","v":1.07874},{"t":"2023-08-25T02:05Z","v":1.07844},{"t":"2023-08-25T02:10Z","v":1.0788},{"t":"2023-08-25T02:15Z","v":1.07873},{"t":"2023-08-25T02:20Z","v":1.07871},{"t":"2023-08-25T02:25Z","v":1.07867},{"t":"2023-08-25T02:30Z","v":1.07852},{"t":"2023-08-25T02:35Z","v":1.07833},{"t":"2023-08-25T02:40Z","v":1.07829},{"t":"2023-08-25T02:45Z","v":1.07822},{"t":"2023-08-25T02:50Z","v":1.07807},{"t":"2023-08-25T02:55Z","v":1.07784},{"t":"2023-08-25T03:00Z","v":1.07837},{"t":"2023-08-25T03:05Z","v":1.07889},{"t":"2023-08-25T03:10Z","v":1.07891},{"t":"2023-08-25T03:15Z","v":1.07859},{"t":"2023-08-25T03:20Z","v":1.07833},{"t":"2023-08-25T03:25Z","v":1.0788},{"t":"2023-08-25T03:30Z","v":1.07822},{"t":"2023-08-25T03:35Z","v":1.07818},{"t":"2023-08-25T03:40Z","v":1.07803},{"t":"2023-08-25T03:45Z","v":1.07781},{"t":"2023-08-25T03:50Z","v":1.07706},{"t":"2023-08-25T03:55Z","v":1.07683},{"t":"2023-08-25T04:00Z","v":1.07702},{"t":"2023-08-25T04:05Z","v":1.07724},{"t":"2023-08-25T04:10Z","v":1.07754},{"t":"2023-08-25T04:15Z","v":1.07792},{"t":"2023-08-25T04:20Z","v":1.07811},{"t":"2023-08-25T04:25Z","v":1.07773},{"t":"2023-08-25T04:30Z","v":1.07807},{"t":"2023-08-25T04:35Z","v":1.07773},{"t":"2023-08-25T04:40Z","v":1.07803},{"t":"2023-08-25T04:45Z","v":1.07833},{"t":"2023-08-25T04:50Z","v":1.0785},{"t":"2023-08-25T04:55Z","v":1.07833},{"t":"2023-08-25T05:00Z","v":1.07859},{"t":"2023-08-25T05:05Z","v":1.07844},{"t":"2023-08-25T05:10Z","v":1.07863},{"t":"2023-08-25T05:15Z","v":1.07889},{"t":"2023-08-25T05:20Z","v":1.07874},{"t":"2023-08-25T05:25Z","v":1.07901},{"t":"2023-08-25T05:30Z","v":1.07893},{"t":"2023-08-25T05:35Z","v":1.07878},{"t":"2023-08-25T05:40Z","v":1.07873},{"t":"2023-08-25T05:45Z","v":1.07874},{"t":"2023-08-25T05:50Z","v":1.07897},{"t":"2023-08-25T05:55Z","v":1.0791},{"t":"2023-08-25T06:00Z","v":1.07893},{"t":"2023-08-25T06:05Z","v":1.07919},{"t":"2023-08-25T06:10Z","v":1.07923},{"t":"2023-08-25T06:15Z","v":1.07961},{"t":"2023-08-25T06:20Z","v":1.07946},{"t":"2023-08-25T06:25Z","v":1.07946},{"t":"2023-08-25T06:30Z","v":1.07961},{"t":"2023-08-25T06:35Z","v":1.07964},{"t":"2023-08-25T06:40Z","v":1.07968},{"t":"2023-08-25T06:45Z","v":1.07972},{"t":"2023-08-25T06:50Z","v":1.07974},{"t":"2023-08-25T06:55Z","v":1.08013},{"t":"2023-08-25T07:00Z","v":1.08015},{"t":"2023-08-25T07:05Z","v":1.08047},{"t":"2023-08-25T07:10Z","v":1.08081},{"t":"2023-08-25T07:15Z","v":1.08043},{"t":"2023-08-25T07:20Z","v":1.08073},{"t":"2023-08-25T07:25Z","v":1.08043},{"t":"2023-08-25T07:30Z","v":1.08017},{"t":"2023-08-25T07:35Z","v":1.08013},{"t":"2023-08-25T07:40Z","v":1.08023},{"t":"2023-08-25T07:45Z","v":1.08017},{"t":"2023-08-25T07:50Z","v":1.08003},{"t":"2023-08-25T07:55Z","v":1.08013},{"t":"2023-08-25T08:00Z","v":1.08051},{"t":"2023-08-25T08:05Z","v":1.08043},{"t":"2023-08-25T08:10Z","v":1.08092},{"t":"2023-08-25T08:15Z","v":1.08073},{"t":"2023-08-25T08:20Z","v":1.08073},{"t":"2023-08-25T08:25Z","v":1.08088},{"t":"2023-08-25T08:30Z","v":1.08111},{"t":"2023-08-25T08:35Z","v":1.08113},{"t":"2023-08-25T08:40Z","v":1.08126},{"t":"2023-08-25T08:45Z","v":1.08152},{"t":"2023-08-25T08:50Z","v":1.08114},{"t":"2023-08-25T08:55Z","v":1.08112},{"t":"2023-08-25T09:00Z","v":1.08111},{"t":"2023-08-25T09:05Z","v":1.08081},{"t":"2023-08-25T09:10Z","v":1.08073},{"t":"2023-08-25T09:15Z","v":1.08043},{"t":"2023-08-25T09:20Z","v":1.08033},{"t":"2023-08-25T09:25Z","v":1.08081},{"t":"2023-08-25T09:30Z","v":1.08058},{"t":"2023-08-25T09:35Z","v":1.07994},{"t":"2023-08-25T09:40Z","v":1.08039},{"t":"2023-08-25T09:45Z","v":1.08043},{"t":"2023-08-25T09:50Z","v":1.08081},{"t":"2023-08-25T09:55Z","v":1.08073},{"t":"2023-08-25T10:00Z","v":1.08281},{"t":"2023-08-25T10:05Z","v":1.08073},{"t":"2023-08-25T10:10Z","v":1.08281},{"t":"2023-08-25T10:15Z","v":1.08191},{"t":"2023-08-25T10:20Z","v":1.08032},{"t":"2023-08-25T10:25Z","v":1.07957},{"t":"2023-08-25T10:30Z","v":1.07844},{"t":"2023-08-25T10:35Z","v":1.07859},{"t":"2023-08-25T10:40Z","v":1.07792},{"t":"2023-08-25T10:45Z","v":1.07792},{"t":"2023-08-25T10:50Z","v":1.07732},{"t":"2023-08-25T10:55Z","v":1.07673},{"t":"2023-08-25T11:00Z","v":1.07799},{"t":"2023-08-25T11:05Z","v":1.07799},{"t":"2023-08-25T11:10Z","v":1.07673},{"t":"2023-08-25T11:15Z","v":1.07673},{"t":"2023-08-25T11:20Z","v":1.07762},{"t":"2023-08-25T11:25Z","v":1.07859},{"t":"2023-08-25T11:30Z","v":1.07822},{"t":"2023-08-25T11:35Z","v":1.07882},{"t":"2023-08-25T11:40Z","v":1.07882},{"t":"2023-08-25T11:45Z","v":1.07856},{"t":"2023-08-25T11:50Z","v":1.07852},{"t":"2023-08-25T11:55Z","v":1.07882},{"t":"2023-08-25T12:00Z","v":1.07882},{"t":"2023-08-25T12:05Z","v":1.07949},{"t":"2023-08-25T12:10Z","v":1.07912},{"t":"2023-08-25T12:15Z","v":1.07923},{"t":"2023-08-25T12:20Z","v":1.07961},{"t":"2023-08-25T12:25Z","v":1.07964},{"t":"2023-08-25T12:30Z","v":1.07981},{"t":"2023-08-25T12:35Z","v":1.07923},{"t":"2023-08-25T12:40Z","v":1.07934},{"t":"2023-08-25T12:45Z","v":1.07913},{"t":"2023-08-25T12:50Z","v":1.07923},{"t":"2023-08-25T12:55Z","v":1.07979},{"t":"2023-08-25T13:00Z","v":1.08021},{"t":"2023-08-25T13:05Z","v":1.07979},{"t":"2023-08-25T13:10Z","v":1.07953},{"t":"2023-08-25T13:15Z","v":1.07953},{"t":"2023-08-25T13:20Z","v":1.07951},{"t":"2023-08-25T13:25Z","v":1.07923},{"t":"2023-08-25T13:30Z","v":1.07923},{"t":"2023-08-25T13:35Z","v":1.07925},{"t":"2023-08-25T13:40Z","v":1.07931},{"t":"2023-08-25T13:45Z","v":1.07946},{"t":"2023-08-25T13:50Z","v":1.07964},{"t":"2023-08-25T13:55Z","v":1.07979},{"t":"2023-08-25T14:00Z","v":1.08023},{"t":"2023-08-25T14:05Z","v":1.08024},{"t":"2023-08-25T14:10Z","v":1.08062},{"t":"2023-08-25T14:15Z","v":1.08069},{"t":"2023-08-25T14:20Z","v":1.08092},{"t":"2023-08-25T14:25Z","v":1.08083},{"t":"2023-08-25T14:30Z","v":1.08098},{"t":"2023-08-25T14:35Z","v":1.08101},{"t":"2023-08-25T14:40Z","v":1.08058},{"t":"2023-08-25T14:45Z","v":1.08062},{"t":"2023-08-25T14:50Z","v":1.08056},{"t":"2023-08-25T14:55Z","v":1.08062},{"t":"2023-08-25T15:00Z","v":1.08054},{"t":"2023-08-25T15:05Z","v":1.08071},{"t":"2023-08-25T15:10Z","v":1.08069},{"t":"2023-08-25T15:15Z","v":1.08077},{"t":"2023-08-25T15:20Z","v":1.08078},{"t":"2023-08-25T15:25Z","v":1.08083},{"t":"2023-08-25T15:30Z","v":1.08083},{"t":"2023-08-25T15:35Z","v":1.08063},{"t":"2023-08-25T15:40Z","v":1.08058},{"t":"2023-08-25T15:45Z","v":1.08006},{"t":"2023-08-25T15:50Z","v":1.07987},{"t":"2023-08-25T15:55Z","v":1.07998},{"t":"2023-08-25T16:00Z","v":1.07964},{"t":"2023-08-25T16:05Z","v":1.07949},{"t":"2023-08-25T16:10Z","v":1.07948},{"t":"2023-08-25T16:15Z","v":1.07934},{"t":"2023-08-25T16:20Z","v":1.07923},{"t":"2023-08-25T16:25Z","v":1.07912},{"t":"2023-08-25T16:30Z","v":1.07904},{"t":"2023-08-25T16:35Z","v":1.07923},{"t":"2023-08-25T16:40Z","v":1.07927},{"t":"2023-08-25T16:45Z","v":1.07934},{"t":"2023-08-25T16:50Z","v":1.07942}
]},
"vconcat":[
{"width":1284,"height":300,
"encoding":{"x":{"field":"col","type":"quantitative","axis":null,"scale":{"zero":false,"nice":false,"domain":[0,1,2,3,4,5,6,7,8,9,10,11,12,13,14,15,16,17,18,19,20,21,22,23,24,25,26,27,28,29],"range":[0,30,34,52,68,105,142,178,184,223,252,329,413,491,560,638,698,792.5,853,864,878,942,989,1040,1094,1124,1174,1211,1236,1260]}},
"y":{"field":"row","type":"quantitative","axis":null,"scale":{"zero":false,"nice":false,"domain":[0,1,2,3,4,5,6,7,8,9,10,11,12,13,14,15,16,17,18],"range":[42,58,67,120,144,169,200,209,231,247,252,256,262,266,270,272,288,293,294]}}},
"layer":[
{"data":{"values":[{"col":4,"col2":6,"row":3,"row2":6,"name":"5D selected"}]},"mark":{"type":"rect","color":"#b5d9ff"},"encoding":{"x2":{"field":"col2"},"y2":{"field":"row2"}}},
{"data":{"values":[{"col":24,"col2":26,"row":16,"row2":18,"name":"crosshair selected"}]},"mark":{"type":"rect","color":"#3b8bf2"},"encoding":{"x2":{"field":"col2"},"y2":{"field":"row2"}}},
{"data":{"values":[{"col":0,"col2":29,"row":7}]},"mark":{"type":"rule","color":"#dcdcdc","strokeWidth":2},"encoding":{"x2":{"field":"col2"}}},
{"data":{"values":[{"col":22,"row":8,"row2":17}]},"mark":{"type":"rule","color":"#dcdcdc","strokeWidth":2},"encoding":{"y2":{"field":"row2"}}},
{"data":{"values":[{"col":0,"row":2,"label":"1.08"}]},"mark":{"type":"text","font":"Lato","fontWeight":"bold","fontSize":64,"align":"left","baseline":"alphabetic","color":"#1a1a1a","stroke":"#1a1a1a","strokeWidth":1.4},"encoding":{"text":{"field":"label"}}},
{"data":{"values":[{"col":9,"row":1,"label":"-0.0009 (-0.0833%)"}]},"mark":{"type":"text","font":"Lato","fontWeight":"bold","fontSize":41.5,"align":"left","baseline":"alphabetic","color":"#cc2b2e","stroke":"#cc2b2e","strokeWidth":0.7},"encoding":{"text":{"field":"label"}}},
{"data":{"values":[{"col":2,"row":5,"label":"1D"},{"col":5,"row":5,"label":"5D"},{"col":7,"row":5,"label":"1M"},{"col":10,"row":5,"label":"3M"},{"col":11,"row":5,"label":"6M"},{"col":12,"row":5,"label":"YTD"},{"col":13,"row":5,"label":"1Y"},{"col":14,"row":5,"label":"5Y"},{"col":15,"row":5,"label":"ALL"}]},"mark":{"type":"text","font":"Lato","fontWeight":500,"fontSize":25,"align":"center","baseline":"alphabetic","color":"#2579b6","stroke":"#2579b6","strokeWidth":0.5},"encoding":{"text":{"field":"label"}}},
{"data":{"values":[{"col":3,"row":15,"label":"Comparison"}]},"mark":{"type":"text","font":"Liberation Sans","fontSize":24,"align":"left","baseline":"alphabetic","color":"#111111"},"encoding":{"text":{"field":"label"}}},
{"data":{"values":[{"col":16,"row":13,"label":"5m"}]},"mark":{"type":"text","font":"Liberation Sans","fontSize":26,"align":"center","baseline":"alphabetic","color":"#666666"},"encoding":{"text":{"field":"label"}}},
{"data":{"values":[{"col":19,"row":14,"label":"f"}]},"mark":{"type":"text","font":"Liberation Serif","fontStyle":"italic","fontSize":48,"align":"center","baseline":"alphabetic","color":"#222222"},"encoding":{"text":{"field":"label"}}},
{"data":{"values":[{"col":20,"row":13,"label":"x"}]},"mark":{"type":"text","font":"Liberation Sans","fontSize":24,"align":"center","baseline":"alphabetic","color":"#333333"},"encoding":{"text":{"field":"label"}}},
{"data":{"values":[{"col":18,"row":9,"label":"+"}]},"mark":{"type":"text","font":"Liberation Sans","fontWeight":"bold","fontSize":18,"align":"center","baseline":"alphabetic","color":"#222222"},"encoding":{"text":{"field":"label"}}},
{"data":{"values":[{"col":21,"row":11}]},"mark":{"type":"point","size":4,"filled":true,"opacity":1,"color":"#222222","shape":"M -2.5 -14 L 2.5 -14 L 4 -10 L 4.24 -9.9 L 8.13 -11.67 L 11.67 -8.13 L 9.9 -4.24 L 10 -4 L 14 -2.5 L 14 2.5 L 10 4 L 9.9 4.24 L 11.67 8.13 L 8.13 11.67 L 4.24 9.9 L 4 10 L 2.5 14 L -2.5 14 L -4 10 L -4.24 9.9 L -8.13 11.67 L -11.67 8.13 L -9.9 4.24 L -10 4 L -14 2.5 L -14 -2.5 L -10 -4 L -9.9 -4.24 L -11.67 -8.13 L -8.13 -11.67 L -4.24 -9.9 L -4 -10 Z M 0 -5 A 5 5 0 0 0 0 5 A 5 5 0 0 0 0 -5 Z"}},
{"data":{"values":[{"col":8,"row":0}]},"mark":{"type":"point","size":4,"filled":true,"opacity":1,"color":"#cc2b2e","shape":"M -18 -14 H 18 L 0 14 Z"}},
{"data":{"values":[{"col":1,"row":12}]},"mark":{"type":"point","size":4,"filled":true,"opacity":1,"color":"#1f66d8","shape":"M -10 -1.5 H -1.5 V -10 H 1.5 V -1.5 H 10 V 1.5 H 1.5 V 10 H -1.5 V 1.5 H -10 Z"}},
{"data":{"values":[{"col":28,"row":4}]},"mark":{"type":"point","size":4,"filled":true,"opacity":1,"color":"#777777","shape":"M 24 -24 L 24 -4 L 4 -24 Z M 11 -17 L 17 -11 L 7 -1 L 1 -7 Z M -24 24 L -24 4 L -4 24 Z M -11 17 L -17 11 L -7 1 L -1 7 Z"}},
{"data":{"values":[{"col":17,"row":11}]},"mark":{"type":"point","size":4,"filled":true,"opacity":1,"color":"#222222","shape":"M -18.5 -7 H -14.5 V -14 H -12.5 V -7 H -8.5 V 13 H -12.5 V 20 H -14.5 V 13 H -18.5 Z M -5 -13 H -1 V -20 H 1 V -13 H 5 V 7 H 1 V 14 H -1 V 7 H -5 Z M 9 -7 H 13 V -14 H 15 V -7 H 19 V 13 H 15 V 20 H 13 V 13 H 9 Z"}},
{"data":{"values":[{"col":23,"row":10}]},"mark":{"type":"point","size":4,"filled":false,"opacity":1,"color":"#222222","strokeWidth":2,"shape":"M -17 17 L -17 9 L 10 -17 L 18 -9 L -8 17 Z"}},
{"data":{"values":[{"col":23,"row":10}]},"mark":{"type":"point","size":4,"filled":true,"opacity":1,"color":"#222222","shape":"M 10 -18 L 18 -10 L 13 -4 L 5 -12 Z"}},
{"data":{"values":[{"col":23,"row":10}]},"mark":{"type":"point","size":4,"filled":false,"opacity":1,"color":"#999999","strokeWidth":2,"shape":"M -6 17 L 17 17"}},
{"data":{"values":[{"col":25,"row":10}]},"mark":{"type":"point","size":4,"filled":false,"opacity":1,"color":"#333333","strokeWidth":1.5,"shape":"M -16 0 H -4 M 4 0 H 16 M 0 -17 V -5 M 0 5 V 17"}},
{"data":{"values":[{"col":27,"row":10}]},"mark":{"type":"point","size":4,"filled":true,"opacity":1,"color":"#222222","shape":"M -17 -15 H 17 V 15 L 10 8 H -17 Z"}},
{"data":{"values":[{"col":27,"row":10}]},"mark":{"type":"point","size":4,"filled":false,"opacity":1,"color":"#999999","strokeWidth":2,"shape":"M -13 -10 H -3 M -13 -4 H 3 M -13 1 H 3 M 7 -4 H 13 M 7 1 H 13"}}
]},
{"width":1141,"height":520,
"layer":[
{"data":{"values":[{"v":1.0794}]},"mark":{"type":"rule","color":"#9ecb8e","strokeWidth":2,"strokeDash":[10,10]},"encoding":{"y":{"field":"v","type":"quantitative","scale":{"domain":[1.07626,1.08797],"zero":false,"nice":false},"axis":{"orient":"right","title":null,"values":[1.0775,1.08,1.0825,1.085,1.0875],"format":".4f","domainColor":"#999999","domainWidth":2,"tickColor":"#999999","tickWidth":1.5,"tickSize":7,"labelPadding":5,"labelOffset":1,"labelFont":"Liberation Sans","labelFontSize":23.5,"labelColor":"#333333","gridColor":"#eeeeee","gridWidth":2}}}},
{"data":{"name":"series"},"mark":{"type":"area","opacity":0.75,"color":{"gradient":"linear","x1":0,"y1":0,"x2":0,"y2":1,"stops":[{"offset":0,"color":"#88acd2"},{"offset":1,"color":"#ffffff"}]}},"encoding":{"x":{"field":"t","type":"temporal","scale":{"type":"utc","domain":[1692707598000,1692992520000],"nice":false},"axis":{"title":null,"values":[1692748800000,1692792000000,1692835200000,1692878400000,1692921600000,1692964800000],"labelExpr":"utchours(datum.value)==12?'12:00':utcFormat(datum.value,'%-m/%-d')","domainColor":"#999999","domainWidth":2,"tickColor":"#999999","tickWidth":1.5,"tickSize":12,"labelPadding":7,"labelFont":"Liberation Sans","labelFontSize":23.5,"labelColor":{"condition":{"test":"utchours(datum.value)==12","value":"#666666"},"value":"#444444"},"gridColor":{"condition":{"test":"utchours(datum.value)==12","value":"#eeeeee"},"value":"#cccccc"},"gridWidth":2,"labelOverlap":false}},"y":{"field":"v","type":"quantitative","scale":{"domain":[1.07626,1.08797],"zero":false,"nice":false}},"y2":{"datum":1.07626}}},
{"data":{"name":"series"},"mark":{"type":"line","color":"#2577b5","strokeWidth":1.8},"encoding":{"x":{"field":"t","type":"temporal","scale":{"type":"utc","domain":[1692707598000,1692992520000],"nice":false}},"y":{"field":"v","type":"quantitative","scale":{"domain":[1.07626,1.08797],"zero":false,"nice":false}}}},
{"data":{"values":[{"t":"2023-08-25T16:50Z","v":1.0794}]},"mark":{"type":"point","filled":true,"opacity":1,"size":150,"color":"#29b6f6"},"encoding":{"x":{"field":"t","type":"temporal","scale":{"type":"utc","domain":[1692707598000,1692992520000],"nice":false}},"y":{"field":"v","type":"quantitative","scale":{"domain":[1.07626,1.08797],"zero":false,"nice":false}}}},
{"data":{"values":[{"t":"2023-08-25T19:42Z","v":1.0794}]},"mark":{"type":"point","filled":true,"opacity":1,"size":4,"color":"#8ec07c","shape":"M -19 0 L -1 -18 L 81 -18 Q 84 -18 84 -15 L 84 15 Q 84 18 81 18 L -1 18 Z"},"encoding":{"x":{"field":"t","type":"temporal","scale":{"type":"utc","domain":[1692707598000,1692992520000],"nice":false}},"y":{"field":"v","type":"quantitative","scale":{"domain":[1.07626,1.08797],"zero":false,"nice":false}}}},
{"data":{"values":[{"t":"2023-08-25T19:42Z","v":1.0794,"label":"1.0794"}]},"mark":{"type":"text","font":"Liberation Sans","fontSize":23.5,"align":"left","baseline":"middle","dx":6,"dy":2,"color":"#ffffff"},"encoding":{"x":{"field":"t","type":"temporal","scale":{"type":"utc","domain":[1692707598000,1692992520000],"nice":false}},"y":{"field":"v","type":"quantitative","scale":{"domain":[1.07626,1.08797],"zero":false,"nice":false}},"text":{"field":"label"}}}
]}
]}
